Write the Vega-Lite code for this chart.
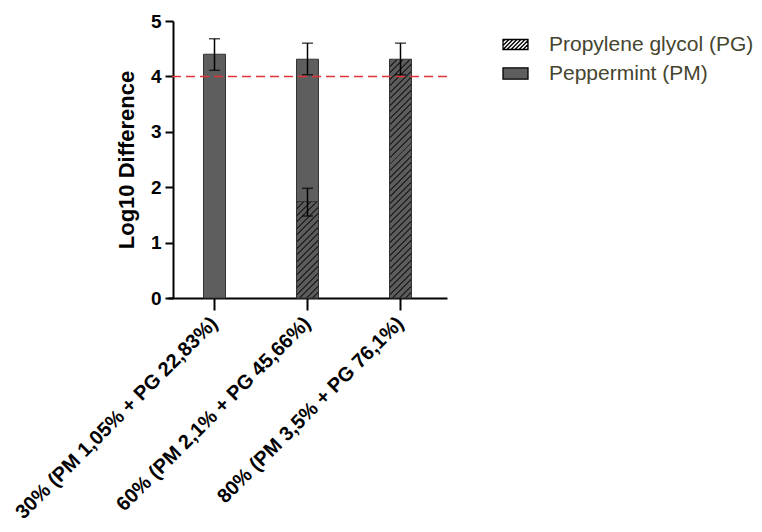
{
 "$schema": "https://vega.github.io/schema/vega-lite/v6.json",
 "autosize": {"type": "none"},
 "padding": {"left": 168, "top": 21, "right": 315, "bottom": 234},
 "width": 279,
 "height": 277,
 "background": "white",
 "config": {
  "view": {"stroke": null},
  "font": "Liberation Sans",
  "axisX": {"labelAngle": -45, "labelAlign": "right", "labelBaseline": "middle", "labelFont": "Liberation Sans", "labelFontSize": 20, "labelFontWeight": "bold", "labelColor": "black", "labelLimit": 400, "labelOverlap": false, "labelPadding": 10, "tickSize": 12, "tickWidth": 2, "tickColor": "black", "domainColor": "black", "domainWidth": 2, "grid": false},
  "axisY": {"titleFont": "Liberation Sans", "titleFontSize": 22, "titleFontWeight": "bold", "titleColor": "black", "titlePadding": 12, "values": [0, 1, 2, 3, 4, 5], "labelFont": "Liberation Sans", "labelFontSize": 19, "labelFontWeight": "bold", "labelColor": "black", "labelPadding": 4, "labelFlush": false, "tickSize": 8, "tickWidth": 2, "tickColor": "black", "domainColor": "black", "domainWidth": 2, "grid": false, "offset": -5}
 },
 "data": {"values": [
  {"group": "30% (PM 1,05% + PG 22,83%)", "series": "Peppermint (PM)", "value": 4.4, "lo": 4.11, "hi": 4.68},
  {"group": "60% (PM 2,1% + PG 45,66%)", "series": "Peppermint (PM)", "value": 4.31, "lo": 4.03, "hi": 4.6},
  {"group": "60% (PM 2,1% + PG 45,66%)", "series": "Propylene glycol (PG)", "value": 1.74, "lo": 1.48, "hi": 1.98},
  {"group": "80% (PM 3,5% + PG 76,1%)", "series": "Propylene glycol (PG)", "value": 4.31, "lo": 4.03, "hi": 4.6}
 ]},
 "layer": [
  {
   "transform": [{"filter": "datum.series === 'Peppermint (PM)'"}],
   "mark": {"type": "bar", "size": 22, "fill": "#5e5e5e", "stroke": "#333333", "strokeWidth": 1},
   "encoding": {
    "x": {"field": "group", "type": "nominal", "title": null,
     "scale": {"domain": ["30% (PM 1,05% + PG 22,83%)", "60% (PM 2,1% + PG 45,66%)", "80% (PM 3,5% + PG 76,1%)"], "paddingInner": 0, "paddingOuter": 0}},
    "y": {"field": "value", "type": "quantitative", "title": "Log10 Difference", "scale": {"domain": [0, 5], "nice": false}}
   }
  },
  {
   "transform": [{"filter": "datum.series === 'Propylene glycol (PG)' && datum.group === '60% (PM 2,1% + PG 45,66%)'"}],
   "mark": {"type": "bar", "size": 22, "stroke": "#333333", "strokeWidth": 1,
    "fill": {"gradient": "linear", "x1": 0, "y1": 0, "x2": 0.26643, "y2": 1.16742, "stops": [
     {"offset": 0, "color": "#262626"}, {"offset": 0.0167, "color": "#262626"}, {"offset": 0.0167, "color": "#5c5c5c"}, {"offset": 0.0556, "color": "#5c5c5c"},
     {"offset": 0.0556, "color": "#262626"}, {"offset": 0.0722, "color": "#262626"}, {"offset": 0.0722, "color": "#5c5c5c"}, {"offset": 0.1111, "color": "#5c5c5c"},
     {"offset": 0.1111, "color": "#262626"}, {"offset": 0.1278, "color": "#262626"}, {"offset": 0.1278, "color": "#5c5c5c"}, {"offset": 0.1667, "color": "#5c5c5c"},
     {"offset": 0.1667, "color": "#262626"}, {"offset": 0.1833, "color": "#262626"}, {"offset": 0.1833, "color": "#5c5c5c"}, {"offset": 0.2222, "color": "#5c5c5c"},
     {"offset": 0.2222, "color": "#262626"}, {"offset": 0.2389, "color": "#262626"}, {"offset": 0.2389, "color": "#5c5c5c"}, {"offset": 0.2778, "color": "#5c5c5c"},
     {"offset": 0.2778, "color": "#262626"}, {"offset": 0.2944, "color": "#262626"}, {"offset": 0.2944, "color": "#5c5c5c"}, {"offset": 0.3333, "color": "#5c5c5c"},
     {"offset": 0.3333, "color": "#262626"}, {"offset": 0.35, "color": "#262626"}, {"offset": 0.35, "color": "#5c5c5c"}, {"offset": 0.3889, "color": "#5c5c5c"},
     {"offset": 0.3889, "color": "#262626"}, {"offset": 0.4056, "color": "#262626"}, {"offset": 0.4056, "color": "#5c5c5c"}, {"offset": 0.4444, "color": "#5c5c5c"},
     {"offset": 0.4444, "color": "#262626"}, {"offset": 0.4611, "color": "#262626"}, {"offset": 0.4611, "color": "#5c5c5c"}, {"offset": 0.5, "color": "#5c5c5c"},
     {"offset": 0.5, "color": "#262626"}, {"offset": 0.5167, "color": "#262626"}, {"offset": 0.5167, "color": "#5c5c5c"}, {"offset": 0.5556, "color": "#5c5c5c"},
     {"offset": 0.5556, "color": "#262626"}, {"offset": 0.5722, "color": "#262626"}, {"offset": 0.5722, "color": "#5c5c5c"}, {"offset": 0.6111, "color": "#5c5c5c"},
     {"offset": 0.6111, "color": "#262626"}, {"offset": 0.6278, "color": "#262626"}, {"offset": 0.6278, "color": "#5c5c5c"}, {"offset": 0.6667, "color": "#5c5c5c"},
     {"offset": 0.6667, "color": "#262626"}, {"offset": 0.6833, "color": "#262626"}, {"offset": 0.6833, "color": "#5c5c5c"}, {"offset": 0.7222, "color": "#5c5c5c"},
     {"offset": 0.7222, "color": "#262626"}, {"offset": 0.7389, "color": "#262626"}, {"offset": 0.7389, "color": "#5c5c5c"}, {"offset": 0.7778, "color": "#5c5c5c"},
     {"offset": 0.7778, "color": "#262626"}, {"offset": 0.7944, "color": "#262626"}, {"offset": 0.7944, "color": "#5c5c5c"}, {"offset": 0.8333, "color": "#5c5c5c"},
     {"offset": 0.8333, "color": "#262626"}, {"offset": 0.85, "color": "#262626"}, {"offset": 0.85, "color": "#5c5c5c"}, {"offset": 0.8889, "color": "#5c5c5c"},
     {"offset": 0.8889, "color": "#262626"}, {"offset": 0.9056, "color": "#262626"}, {"offset": 0.9056, "color": "#5c5c5c"}, {"offset": 0.9444, "color": "#5c5c5c"},
     {"offset": 0.9444, "color": "#262626"}, {"offset": 0.9611, "color": "#262626"}, {"offset": 0.9611, "color": "#5c5c5c"}, {"offset": 1, "color": "#5c5c5c"}
    ]}},
   "encoding": {
    "x": {"field": "group", "type": "nominal", "title": null},
    "y": {"field": "value", "type": "quantitative", "title": "Log10 Difference"}
   }
  },
  {
   "transform": [{"filter": "datum.series === 'Propylene glycol (PG)' && datum.group === '80% (PM 3,5% + PG 76,1%)'"}],
   "mark": {"type": "bar", "size": 22, "stroke": "#333333", "strokeWidth": 1,
    "fill": {"gradient": "linear", "x1": 0, "y1": 0, "x2": 0.09978, "y2": 1.08295, "stops": [
     {"offset": 0, "color": "#262626"}, {"offset": 0.0075, "color": "#262626"}, {"offset": 0.0075, "color": "#5c5c5c"}, {"offset": 0.025, "color": "#5c5c5c"},
     {"offset": 0.025, "color": "#262626"}, {"offset": 0.0325, "color": "#262626"}, {"offset": 0.0325, "color": "#5c5c5c"}, {"offset": 0.05, "color": "#5c5c5c"},
     {"offset": 0.05, "color": "#262626"}, {"offset": 0.0575, "color": "#262626"}, {"offset": 0.0575, "color": "#5c5c5c"}, {"offset": 0.075, "color": "#5c5c5c"},
     {"offset": 0.075, "color": "#262626"}, {"offset": 0.0825, "color": "#262626"}, {"offset": 0.0825, "color": "#5c5c5c"}, {"offset": 0.1, "color": "#5c5c5c"},
     {"offset": 0.1, "color": "#262626"}, {"offset": 0.1075, "color": "#262626"}, {"offset": 0.1075, "color": "#5c5c5c"}, {"offset": 0.125, "color": "#5c5c5c"},
     {"offset": 0.125, "color": "#262626"}, {"offset": 0.1325, "color": "#262626"}, {"offset": 0.1325, "color": "#5c5c5c"}, {"offset": 0.15, "color": "#5c5c5c"},
     {"offset": 0.15, "color": "#262626"}, {"offset": 0.1575, "color": "#262626"}, {"offset": 0.1575, "color": "#5c5c5c"}, {"offset": 0.175, "color": "#5c5c5c"},
     {"offset": 0.175, "color": "#262626"}, {"offset": 0.1825, "color": "#262626"}, {"offset": 0.1825, "color": "#5c5c5c"}, {"offset": 0.2, "color": "#5c5c5c"},
     {"offset": 0.2, "color": "#262626"}, {"offset": 0.2075, "color": "#262626"}, {"offset": 0.2075, "color": "#5c5c5c"}, {"offset": 0.225, "color": "#5c5c5c"},
     {"offset": 0.225, "color": "#262626"}, {"offset": 0.2325, "color": "#262626"}, {"offset": 0.2325, "color": "#5c5c5c"}, {"offset": 0.25, "color": "#5c5c5c"},
     {"offset": 0.25, "color": "#262626"}, {"offset": 0.2575, "color": "#262626"}, {"offset": 0.2575, "color": "#5c5c5c"}, {"offset": 0.275, "color": "#5c5c5c"},
     {"offset": 0.275, "color": "#262626"}, {"offset": 0.2825, "color": "#262626"}, {"offset": 0.2825, "color": "#5c5c5c"}, {"offset": 0.3, "color": "#5c5c5c"},
     {"offset": 0.3, "color": "#262626"}, {"offset": 0.3075, "color": "#262626"}, {"offset": 0.3075, "color": "#5c5c5c"}, {"offset": 0.325, "color": "#5c5c5c"},
     {"offset": 0.325, "color": "#262626"}, {"offset": 0.3325, "color": "#262626"}, {"offset": 0.3325, "color": "#5c5c5c"}, {"offset": 0.35, "color": "#5c5c5c"},
     {"offset": 0.35, "color": "#262626"}, {"offset": 0.3575, "color": "#262626"}, {"offset": 0.3575, "color": "#5c5c5c"}, {"offset": 0.375, "color": "#5c5c5c"},
     {"offset": 0.375, "color": "#262626"}, {"offset": 0.3825, "color": "#262626"}, {"offset": 0.3825, "color": "#5c5c5c"}, {"offset": 0.4, "color": "#5c5c5c"},
     {"offset": 0.4, "color": "#262626"}, {"offset": 0.4075, "color": "#262626"}, {"offset": 0.4075, "color": "#5c5c5c"}, {"offset": 0.425, "color": "#5c5c5c"},
     {"offset": 0.425, "color": "#262626"}, {"offset": 0.4325, "color": "#262626"}, {"offset": 0.4325, "color": "#5c5c5c"}, {"offset": 0.45, "color": "#5c5c5c"},
     {"offset": 0.45, "color": "#262626"}, {"offset": 0.4575, "color": "#262626"}, {"offset": 0.4575, "color": "#5c5c5c"}, {"offset": 0.475, "color": "#5c5c5c"},
     {"offset": 0.475, "color": "#262626"}, {"offset": 0.4825, "color": "#262626"}, {"offset": 0.4825, "color": "#5c5c5c"}, {"offset": 0.5, "color": "#5c5c5c"},
     {"offset": 0.5, "color": "#262626"}, {"offset": 0.5075, "color": "#262626"}, {"offset": 0.5075, "color": "#5c5c5c"}, {"offset": 0.525, "color": "#5c5c5c"},
     {"offset": 0.525, "color": "#262626"}, {"offset": 0.5325, "color": "#262626"}, {"offset": 0.5325, "color": "#5c5c5c"}, {"offset": 0.55, "color": "#5c5c5c"},
     {"offset": 0.55, "color": "#262626"}, {"offset": 0.5575, "color": "#262626"}, {"offset": 0.5575, "color": "#5c5c5c"}, {"offset": 0.575, "color": "#5c5c5c"},
     {"offset": 0.575, "color": "#262626"}, {"offset": 0.5825, "color": "#262626"}, {"offset": 0.5825, "color": "#5c5c5c"}, {"offset": 0.6, "color": "#5c5c5c"},
     {"offset": 0.6, "color": "#262626"}, {"offset": 0.6075, "color": "#262626"}, {"offset": 0.6075, "color": "#5c5c5c"}, {"offset": 0.625, "color": "#5c5c5c"},
     {"offset": 0.625, "color": "#262626"}, {"offset": 0.6325, "color": "#262626"}, {"offset": 0.6325, "color": "#5c5c5c"}, {"offset": 0.65, "color": "#5c5c5c"},
     {"offset": 0.65, "color": "#262626"}, {"offset": 0.6575, "color": "#262626"}, {"offset": 0.6575, "color": "#5c5c5c"}, {"offset": 0.675, "color": "#5c5c5c"},
     {"offset": 0.675, "color": "#262626"}, {"offset": 0.6825, "color": "#262626"}, {"offset": 0.6825, "color": "#5c5c5c"}, {"offset": 0.7, "color": "#5c5c5c"},
     {"offset": 0.7, "color": "#262626"}, {"offset": 0.7075, "color": "#262626"}, {"offset": 0.7075, "color": "#5c5c5c"}, {"offset": 0.725, "color": "#5c5c5c"},
     {"offset": 0.725, "color": "#262626"}, {"offset": 0.7325, "color": "#262626"}, {"offset": 0.7325, "color": "#5c5c5c"}, {"offset": 0.75, "color": "#5c5c5c"},
     {"offset": 0.75, "color": "#262626"}, {"offset": 0.7575, "color": "#262626"}, {"offset": 0.7575, "color": "#5c5c5c"}, {"offset": 0.775, "color": "#5c5c5c"},
     {"offset": 0.775, "color": "#262626"}, {"offset": 0.7825, "color": "#262626"}, {"offset": 0.7825, "color": "#5c5c5c"}, {"offset": 0.8, "color": "#5c5c5c"},
     {"offset": 0.8, "color": "#262626"}, {"offset": 0.8075, "color": "#262626"}, {"offset": 0.8075, "color": "#5c5c5c"}, {"offset": 0.825, "color": "#5c5c5c"},
     {"offset": 0.825, "color": "#262626"}, {"offset": 0.8325, "color": "#262626"}, {"offset": 0.8325, "color": "#5c5c5c"}, {"offset": 0.85, "color": "#5c5c5c"},
     {"offset": 0.85, "color": "#262626"}, {"offset": 0.8575, "color": "#262626"}, {"offset": 0.8575, "color": "#5c5c5c"}, {"offset": 0.875, "color": "#5c5c5c"},
     {"offset": 0.875, "color": "#262626"}, {"offset": 0.8825, "color": "#262626"}, {"offset": 0.8825, "color": "#5c5c5c"}, {"offset": 0.9, "color": "#5c5c5c"},
     {"offset": 0.9, "color": "#262626"}, {"offset": 0.9075, "color": "#262626"}, {"offset": 0.9075, "color": "#5c5c5c"}, {"offset": 0.925, "color": "#5c5c5c"},
     {"offset": 0.925, "color": "#262626"}, {"offset": 0.9325, "color": "#262626"}, {"offset": 0.9325, "color": "#5c5c5c"}, {"offset": 0.95, "color": "#5c5c5c"},
     {"offset": 0.95, "color": "#262626"}, {"offset": 0.9575, "color": "#262626"}, {"offset": 0.9575, "color": "#5c5c5c"}, {"offset": 0.975, "color": "#5c5c5c"},
     {"offset": 0.975, "color": "#262626"}, {"offset": 0.9825, "color": "#262626"}, {"offset": 0.9825, "color": "#5c5c5c"}, {"offset": 1, "color": "#5c5c5c"}
    ]}},
   "encoding": {
    "x": {"field": "group", "type": "nominal", "title": null},
    "y": {"field": "value", "type": "quantitative", "title": "Log10 Difference"}
   }
  },
  {
   "mark": {"type": "rule", "color": "black", "strokeWidth": 1.5},
   "encoding": {
    "x": {"field": "group", "type": "nominal", "title": null},
    "y": {"field": "lo", "type": "quantitative", "title": "Log10 Difference"},
    "y2": {"field": "hi"}
   }
  },
  {
   "mark": {"type": "tick", "color": "black", "size": 11, "thickness": 1.5},
   "encoding": {
    "x": {"field": "group", "type": "nominal", "title": null},
    "y": {"field": "hi", "type": "quantitative", "title": "Log10 Difference"}
   }
  },
  {
   "mark": {"type": "tick", "color": "black", "size": 11, "thickness": 1.5},
   "encoding": {
    "x": {"field": "group", "type": "nominal", "title": null},
    "y": {"field": "lo", "type": "quantitative", "title": "Log10 Difference"}
   }
  },
  {
   "data": {"values": [{"threshold": 4}]},
   "mark": {"type": "rule", "color": "#e3343a", "strokeWidth": 1.5, "strokeDash": [9, 5]},
   "encoding": {
    "y": {"field": "threshold", "type": "quantitative", "title": "Log10 Difference"}
   }
  },
  {
   "mark": {"type": "point", "filled": true, "opacity": 0},
   "encoding": {
    "x": {"field": "group", "type": "nominal", "title": null},
    "y": {"field": "value", "type": "quantitative", "title": "Log10 Difference"},
    "color": {"field": "series", "type": "nominal",
     "scale": {"domain": ["Propylene glycol (PG)", "Peppermint (PM)"], "range": ["white", "#5e5e5e"]},
     "legend": {"title": null, "orient": "none", "legendX": 334, "legendY": 10, "labelFont": "Liberation Sans", "labelFontSize": 21, "labelColor": "#45452f", "labelLimit": 400, "symbolSize": 625, "rowPadding": 5, "labelOffset": 20, "padding": 0,
      "encode": {"symbols": {"update": {"stroke": {"value": "black"}, "strokeWidth": {"value": 1.3}, "opacity": {"value": 1}}}}}},
    "shape": {"field": "series", "type": "nominal",
     "scale": {"domain": ["Propylene glycol (PG)", "Peppermint (PM)"], "range": [
      "M-1,-0.4H1V0.4H-1Z M-1,-0.24L-0.84,-0.4 M-1,0.08L-0.52,-0.4 M-1,0.4L-0.2,-0.4 M-0.68,0.4L0.12,-0.4 M-0.36,0.4L0.44,-0.4 M-0.04,0.4L0.76,-0.4 M0.28,0.4L1,-0.32 M0.6,0.4L1,0 M0.92,0.4L1,0.32",
      "M-1,-0.45H1V0.45H-1Z"]},
     "legend": {"title": null, "orient": "none", "legendX": 334, "legendY": 10, "labelFont": "Liberation Sans", "labelFontSize": 21, "labelColor": "#45452f", "labelLimit": 400, "symbolSize": 625, "rowPadding": 5, "labelOffset": 20, "padding": 0,
      "encode": {"symbols": {"update": {"stroke": {"value": "black"}, "strokeWidth": {"value": 1.3}, "opacity": {"value": 1}}}}}}
   }
  }
 ]
}
